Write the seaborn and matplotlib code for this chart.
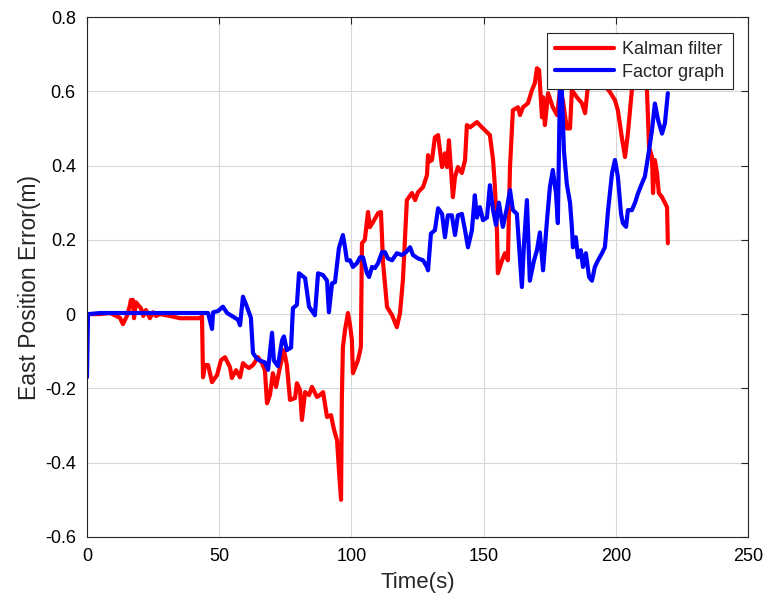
import pandas as pd
import matplotlib
matplotlib.use('Agg')
import matplotlib.pyplot as plt
import seaborn as sns

# Kalman filter east error
kf_time = [0, 4.9, 8.7, 12.5, 13.6, 15.1, 16.3, 16.6, 17.4, 17.8, 18.5, 19.3, 20.4,
           21.3, 22.3, 23.8, 25.0, 26.1, 27.6, 31.4, 35.2, 39.0, 42.7, 43.5, 43.9,
           44.6, 45.8, 47.3, 48.4, 49.2, 50.7, 52.2, 54.1, 54.8, 56.4, 57.9, 59.0,
           60.2, 61.3, 62.8, 64.7, 66.2, 67.3, 68.1, 69.2, 70.3, 71.5, 73.0, 74.5,
           75.6, 76.8, 78.7, 79.4, 80.6, 81.3, 82.5, 84.0, 85.1, 87.0, 88.1, 89.3,
           90.8, 92.3, 93.4, 94.6, 95.3, 96.1, 96.4, 96.8, 97.6, 98.7, 99.5, 100.2,
           100.6, 102.5, 103.6, 104.0, 105.1, 106.3, 107.0, 108.2, 110.1, 111.2,
           112.0, 113.5, 115.4, 117.2, 118.4, 119.5, 121.0, 122.9, 124.1, 125.2,
           127.1, 128.6, 129.0, 129.3, 130.5, 131.6, 132.8, 134.3, 135.4, 136.2,
           136.9, 138.4, 139.2, 140.3, 141.8, 143.0, 143.7, 144.9, 147.5, 149.4,
           152.4, 153.6, 154.3, 155.1, 155.4, 157.0, 158.1, 159.2, 160.0, 161.1,
           163.0, 163.8, 164.9, 166.8, 168.3, 169.4, 170.2, 171.0, 172.1, 172.5,
           173.2, 174.4, 176.2, 177.8, 178.9, 180.0, 181.5, 182.7, 183.4, 185.3,
           187.2, 188.4, 189.5, 191.0, 194.0, 196.7, 197.8, 199.7, 200.8, 202.3,
           203.5, 204.6, 206.1, 208.0, 211.0, 211.8, 212.6, 213.7, 214.1, 214.8,
           215.6, 216.3, 217.5, 218.6, 219.4, 219.7]
kf_error = [0, 0, 0.003, -0.01, -0.027, -0.005, 0.025, 0.038, 0.038, -0.011, 0.032,
            0.025, 0.016, -0.005, 0.011, -0.011, 0.005, -0.005, 0.0, -0.005, -0.011,
            -0.011, -0.011, -0.005, -0.17, -0.137, -0.137, -0.183, -0.172, -0.164,
            -0.124, -0.116, -0.143, -0.172, -0.151, -0.17, -0.132, -0.14, -0.145,
            -0.137, -0.116, -0.132, -0.151, -0.24, -0.218, -0.159, -0.196, -0.143,
            -0.097, -0.137, -0.231, -0.226, -0.186, -0.205, -0.285, -0.21, -0.218,
            -0.196, -0.223, -0.218, -0.21, -0.277, -0.272, -0.31, -0.34, -0.42,
            -0.5, -0.23, -0.089, -0.043, 0.003, -0.03, -0.07, -0.159, -0.124,
            -0.089, 0.191, 0.2, 0.275, 0.234, 0.248, 0.272, 0.275, 0.137, 0.019,
            -0.003, -0.035, 0.003, 0.092, 0.307, 0.326, 0.307, 0.328, 0.342, 0.374,
            0.428, 0.41, 0.415, 0.476, 0.482, 0.396, 0.433, 0.396, 0.468, 0.315,
            0.369, 0.396, 0.38, 0.415, 0.509, 0.503, 0.517, 0.503, 0.482, 0.415,
            0.342, 0.218, 0.11, 0.145, 0.164, 0.145, 0.396, 0.549, 0.557, 0.536,
            0.557, 0.568, 0.603, 0.622, 0.662, 0.657, 0.53, 0.584, 0.509, 0.595,
            0.557, 0.536, 0.603, 0.576, 0.5, 0.5, 0.603, 0.584, 0.568, 0.541, 0.616,
            0.657, 0.67, 0.608, 0.598, 0.576, 0.549, 0.476, 0.423, 0.487, 0.603,
            0.67, 0.657, 0.603, 0.45, 0.423, 0.326, 0.415, 0.38, 0.326, 0.315, 0.299,
            0.288, 0.191]

# Factor graph east error
fg_time = [0, 0.4, 4.9, 23.8, 45.8, 47.3, 47.7, 49.5, 51.4, 53.0, 57.1, 57.9, 59.0,
           60.5, 62.0, 62.8, 64.3, 65.4, 67.3, 68.5, 70.0, 70.7, 72.2, 73.8, 74.5,
           75.6, 77.2, 77.9, 79.4, 80.2, 82.5, 84.0, 86.2, 87.4, 89.3, 90.8, 91.5,
           92.7, 93.8, 95.3, 96.8, 97.6, 98.3, 99.5, 100.6, 102.1, 103.3, 104.4,
           105.9, 106.7, 107.8, 108.9, 110.1, 111.6, 112.7, 113.8, 115.4, 117.2,
           119.1, 120.7, 122.2, 123.3, 125.2, 127.1, 128.6, 129.0, 130.1, 131.6,
           132.8, 134.3, 135.4, 136.5, 138.0, 139.2, 140.3, 141.8, 143.0, 144.1,
           145.6, 146.7, 147.5, 148.6, 149.8, 151.3, 152.4, 153.6, 154.7, 155.8,
           157.3, 158.9, 160.0, 161.1, 162.6, 164.5, 165.3, 166.4, 167.5, 169.1,
           170.2, 171.3, 172.5, 174.0, 175.1, 176.2, 177.4, 178.1, 178.9, 179.3,
           179.7, 180.4, 181.5, 182.7, 183.4, 183.8, 184.9, 185.7, 186.8, 187.6,
           188.7, 189.9, 191.0, 192.1, 193.3, 194.8, 195.9, 197.1, 198.6, 199.7,
           200.8, 202.0, 202.7, 203.9, 204.6, 206.1, 207.3, 208.4, 209.9, 211.0,
           212.2, 213.7, 214.8, 216.0, 217.5, 218.6, 219.7]
fg_error = [-0.17, 0.0, 0.003, 0.003, 0.003, -0.04, 0.005, 0.008, 0.02, 0.003,
            -0.015, -0.03, 0.047, 0.02, -0.01, -0.105, -0.12, -0.125, -0.13, -0.15,
            -0.05, -0.125, -0.14, -0.07, -0.06, -0.097, -0.09, 0.016, 0.025, 0.11,
            0.097, 0.02, -0.003, 0.11, 0.105, 0.09, 0.005, 0.083, 0.086, 0.178,
            0.213, 0.18, 0.145, 0.145, 0.127, 0.137, 0.153, 0.153, 0.11, 0.1, 0.127,
            0.124, 0.137, 0.167, 0.167, 0.15, 0.145, 0.164, 0.159, 0.167, 0.18,
            0.159, 0.15, 0.145, 0.127, 0.118, 0.217, 0.226, 0.285, 0.27, 0.207,
            0.266, 0.266, 0.213, 0.266, 0.27, 0.226, 0.18, 0.226, 0.32, 0.26, 0.288,
            0.253, 0.26, 0.347, 0.28, 0.24, 0.3, 0.235, 0.288, 0.334, 0.28, 0.27,
            0.073, 0.19, 0.307, 0.09, 0.145, 0.172, 0.22, 0.118, 0.253, 0.342,
            0.388, 0.325, 0.245, 0.62, 0.68, 0.585, 0.44, 0.35, 0.3, 0.235, 0.18,
            0.207, 0.153, 0.172, 0.127, 0.164, 0.1, 0.09, 0.127, 0.145, 0.164, 0.18,
            0.28, 0.38, 0.415, 0.37, 0.27, 0.245, 0.235, 0.28, 0.28, 0.3, 0.325,
            0.352, 0.37, 0.423, 0.495, 0.567, 0.523, 0.486, 0.514, 0.595]

x_ticks = [0, 50, 100, 150, 200, 250]
y_ticks = [-0.6, -0.4, -0.2, 0, 0.2, 0.4, 0.6, 0.8]
y_tick_labels = ['-0.6', '-0.4', '-0.2', '0', '0.2', '0.4', '0.6', '0.8']

sns.set_style('white')
plt.rcParams['font.family'] = ['Liberation Sans', 'DejaVu Sans']

fig = plt.figure(figsize=(7.71, 6.03), dpi=100)
ax = fig.add_axes([0.1128, 0.1095, 0.8573, 0.8623])

sns.lineplot(x=kf_time, y=kf_error, ax=ax, color='#ff0000', linewidth=3.0,
             sort=False, estimator=None, label='Kalman filter')
sns.lineplot(x=fg_time, y=fg_error, ax=ax, color='#0000ff', linewidth=3.0,
             sort=False, estimator=None, label='Factor graph')

ax.set_xlim(0, 250)
ax.set_ylim(-0.6, 0.8)
ax.set_xticks(x_ticks)
ax.set_yticks(y_ticks)
ax.set_yticklabels(y_tick_labels)
ax.grid(True, color='#d8d8d8', linewidth=0.8)
ax.set_axisbelow(True)
ax.tick_params(direction='in', length=5, width=0.8, top=True, right=True,
               labelsize=13, colors='#262626', labelcolor='black', pad=8)
for s in ax.spines.values():
    s.set_color('#262626')
    s.set_linewidth(0.8)

ax.set_xlabel('Time(s)', fontsize=16, labelpad=5)
ax.set_ylabel('East Position Error(m)', fontsize=16.5)
ax.yaxis.set_label_coords(-0.069, 0.48)

leg = ax.legend(loc='upper right', bbox_to_anchor=(0.977, 0.969), borderaxespad=0,
                fontsize=13, frameon=True, fancybox=False, framealpha=1,
                handlelength=3.3, handletextpad=0.45, borderpad=0.45,
                labelspacing=0.3)
leg.get_frame().set_edgecolor('#262626')
leg.get_frame().set_linewidth(0.8)
for line in leg.get_lines():
    line.set_linewidth(3.0)

fig.savefig('out.png', dpi=100)
